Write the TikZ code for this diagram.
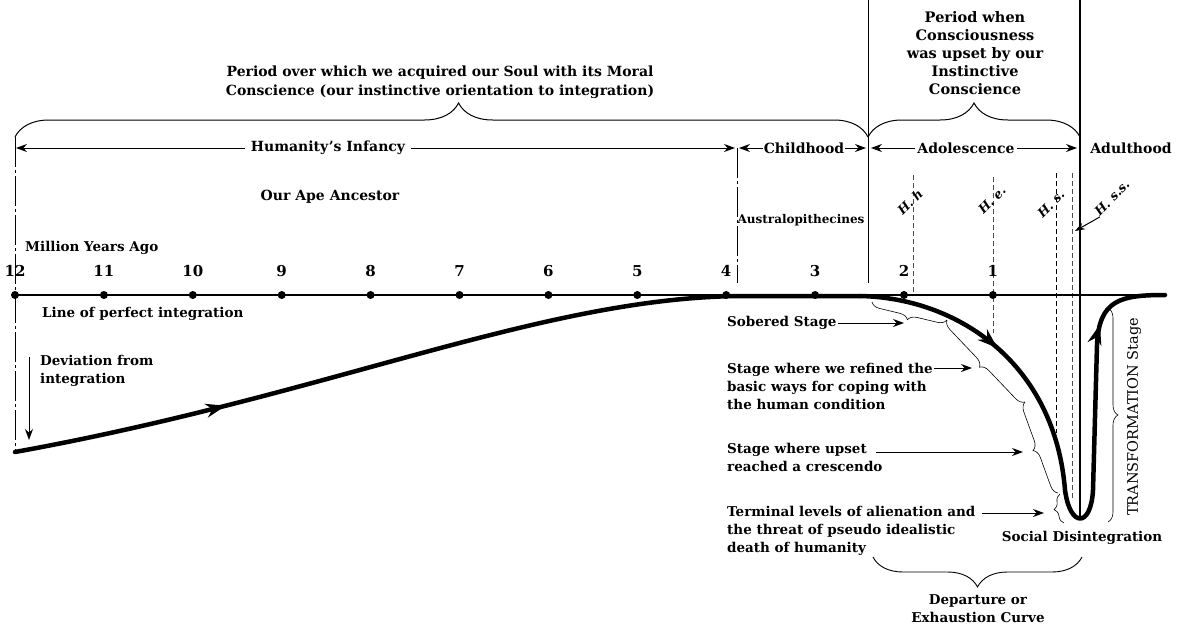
\documentclass[tikz,border=0pt]{standalone}
\usepackage{fontspec}
\setmainfont{DejaVu Serif}
\usetikzlibrary{arrows.meta,decorations.pathreplacing,decorations.markings,calc}
\tikzset{bigtip/.tip={Stealth[length=20pt,width=14pt]}}
\begin{document}
\begin{tikzpicture}[x=1pt,y=-1pt,
 txt/.style={font=\fontsize{13.5}{18}\selectfont\bfseries, inner sep=0pt, align=left},
 ttl/.style={font=\fontsize{14}{19}\selectfont\bfseries, inner sep=0pt, align=center},
 num/.style={font=\fontsize{15}{18}\selectfont\bfseries, inner sep=0pt},
 hlab/.style={font=\fontsize{12.5}{14}\selectfont\bfseries\itshape, inner sep=0pt, rotate=45},
 dot/.style={circle, fill=black, inner sep=0pt, minimum size=8pt},
 tarrow/.style={-{Stealth[length=11pt,width=8pt]}, line width=1pt},
 biarrow/.style={{Stealth[length=11pt,width=8pt]}-{Stealth[length=11pt,width=8pt]}, line width=1pt},
 hdash/.style={line width=0.9pt, dash pattern=on 5pt off 3pt, black!70},
 guide/.style={line width=0.8pt, dash pattern=on 30pt off 3pt on 3pt off 3pt},
 sbrace/.style={decorate, decoration={brace, mirror, amplitude=9pt}, line width=0.6pt},
 curve/.style={line width=4.5pt, line cap=round, line join=round}
]
\useasboundingbox (0,0) rectangle (1181,629);
\fill[white] (0,0) rectangle (1181,629);

% top texts
\node[ttl] (soul) at (440,82) {Period over which we acquired our Soul with its Moral\\Conscience (our instinctive orientation to integration)};
\node[ttl, font=\fontsize{14.5}{18}\selectfont\bfseries] (upset) at (975,53) {Period when\\Consciousness\\was upset by our\\Instinctive\\Conscience};

% big braces
\draw[decorate, decoration={brace, amplitude=34pt, aspect=0.52}, line width=1pt] (15,137) -- (868,137);
\draw[decorate, decoration={brace, amplitude=34pt}, line width=1pt] (868,137) -- (1080,137);

% vertical lines
\coordinate (g1t) at (15,137); \coordinate (g1b) at (15,452);
\coordinate (g2t) at (737,148); \coordinate (g2b) at (737,283);
\draw[guide] (g1t) -- (g1b);
\draw[guide] (g2t) -- (g2b);
\coordinate (v1t) at (868,0); \coordinate (v1b) at (868,283);
\draw[line width=1pt] (v1t) -- (v1b);
\coordinate (v2t) at (1080,0); \coordinate (v2b) at (1080,519);
\draw[line width=2.6pt] (v2t) -- (v2b);

% period arrows
\coordinate (infL) at (16,148); \coordinate (infR) at (735,148);
\draw[biarrow] (infL) -- (infR);
\node[ttl, fill=white, inner xsep=6pt, inner ysep=2pt] (inf) at (328,148) {Humanity’s Infancy};
\coordinate (chL) at (739,148); \coordinate (chR) at (866,148);
\draw[biarrow] (chL) -- (chR);
\node[ttl, fill=white, inner xsep=1pt, inner ysep=2pt] (ch) at (804,148) {Childhood};
\coordinate (adL) at (871,148); \coordinate (adR) at (1077,148);
\draw[biarrow] (adL) -- (adR);
\node[ttl, fill=white, inner xsep=2pt, inner ysep=2pt] (ad) at (966,148) {Adolescence};
\node[ttl] (adu) at (1131,148) {Adulthood};

\node[ttl] (ape) at (330,197) {Our Ape Ancestor};
\node[ttl, font=\fontsize{12}{14}\selectfont\bfseries] (aus) at (801,220) {Australopithecines};

% dashed species lines
\draw[hdash] (913,175) -- (913,295);
\draw[hdash] (993,177) -- (993,333);
\draw[hdash, black] (1056,173) -- (1056,433);
\draw[hdash] (1072,173) -- (1072,500);

% species labels
\node[hlab] (hh) at (910,202) {H. h};
\node[hlab] (he) at (992,200) {H. e.};
\node[hlab] (hs) at (1051,204) {H. s.};
\node[hlab] (hss) at (1112,198) {H. s.s.};
\coordinate (hssT) at (1075,231);
\draw[-{Stealth[length=10pt,width=7pt]}, line width=1pt] (hss.south west) -- (hssT);

% axis
\node[txt, anchor=west] (mya) at (25,248) {Million Years Ago};
\coordinate (axL) at (15,295); \coordinate (axR) at (1165,295);
\draw[line width=2pt] (axL) -- (axR);
\foreach \n [count=\i from 0] in {12,11,10,9,8,7,6,5,4,3,2,1} {
  \node[dot] (d\n) at (15+\i*88.9,295) {};
  \node[num] (n\n) at (15+\i*88.9,271) {\n};
}

\node[txt, anchor=west] (lpi) at (42,314) {Line of perfect integration};
\node[txt, anchor=west] (dev) at (40,371) {Deviation from\\integration};
\coordinate (devT) at (29,357); \coordinate (devB) at (29,440);
\draw[tarrow] (devT) -- (devB);

% main curve
\draw[curve, postaction={decorate, decoration={markings, mark=at position 0.25 with {\arrow{bigtip}}}}]
  (15,452) .. controls (330,395) and (540,298) .. (740,296) -- (860,296);
\draw[curve, postaction={decorate, decoration={markings, mark=at position 150pt with {\arrow{bigtip}}, mark=at position 545pt with {\arrow{bigtip}}}}]
  (860,296) .. controls (960,298) and (1055,365) .. (1065,490)
  .. controls (1070,528) and (1091,528) .. (1093,490)
  -- (1097,345) .. controls (1099,300) and (1120,295) .. (1165,295);

% small braces
\draw[sbrace] (872,302) -- (947,320);
\draw[sbrace] (947,320) -- (1025,402);
\draw[sbrace] (1025,402) -- (1058,493);
\draw[sbrace, decoration={amplitude=8pt}] (1060,494) -- (1064,523);
\draw[decorate, decoration={brace, amplitude=10pt}, line width=0.6pt] (1108,308) -- (1108,522);
\draw[decorate, decoration={brace, amplitude=30pt}, line width=0.9pt] (1082,557) -- (873,557);

% stage labels
\node[txt, anchor=west] (sob) at (727,323) {Sobered Stage};
\node[txt, anchor=west] (ref) at (727,386.5) {Stage where we refined the\\basic ways for coping with\\the human condition};
\node[txt, anchor=west] (cre) at (727,457) {Stage where upset\\reached a crescendo};
\node[txt, anchor=west] (ter) at (727,531) {Terminal levels of alienation and\\the threat of pseudo idealistic\\death of humanity};

\coordinate (a1s) at (838,323); \coordinate (a1e) at (904,323);
\coordinate (a2s) at (934,368); \coordinate (a2e) at (972,368);
\coordinate (a3s) at (876,452); \coordinate (a3e) at (1023,452);
\coordinate (a4s) at (982,513); \coordinate (a4e) at (1044,513);
\draw[tarrow] (a1s) -- (a1e);
\draw[tarrow] (a2s) -- (a2e);
\draw[tarrow] (a3s) -- (a3e);
\draw[tarrow] (a4s) -- (a4e);

\node[txt, anchor=center] (soc) at (1082,538) {Social Disintegration};
\node[txt, align=center] (dep) at (978,609) {Departure or\\Exhaustion Curve};
\node[txt, font=\fontsize{14.5}{18}\selectfont, rotate=90] (tra) at (1134,417) {TRANSFORMATION Stage};
\end{tikzpicture}
\end{document}
